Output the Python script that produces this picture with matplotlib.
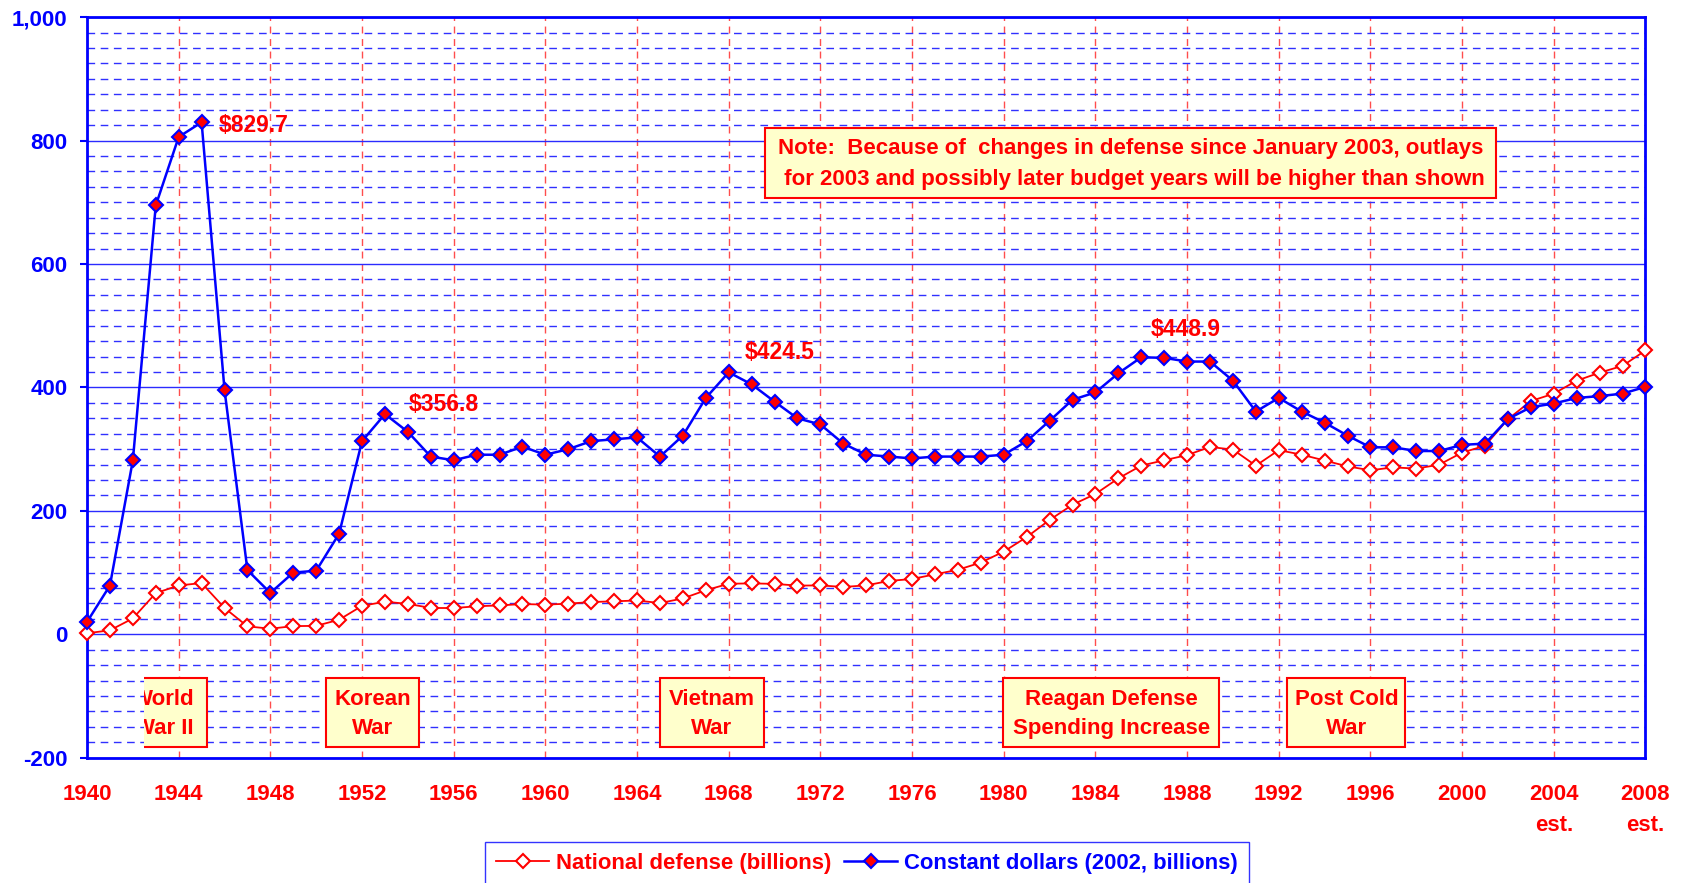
import matplotlib
matplotlib.use('Agg')
import matplotlib.pyplot as plt
from matplotlib.lines import Line2D
from matplotlib.patches import Rectangle
from matplotlib.ticker import FuncFormatter

plt.rcParams['font.family'] = ['Liberation Sans', 'DejaVu Sans']
plt.rcParams['font.weight'] = 'bold'

# fiscal years 1940 - 2008
years = list(range(1940, 2009))

# national defense outlays, billions (current dollars)
national_defense = [
    1.7, 6.4, 25.7, 66.7, 79.1, 83.0, 42.7, 12.8, 9.1, 13.2,
    13.7, 23.6, 46.1, 52.8, 49.3, 42.7, 42.5, 45.4, 46.8, 49.0,
    48.1, 49.6, 52.3, 53.4, 54.8, 50.6, 58.1, 71.4, 81.9, 82.5,
    81.7, 78.9, 79.2, 76.7, 79.3, 86.5, 89.6, 97.2, 104.5, 116.3,
    134.0, 157.5, 185.3, 209.9, 227.4, 252.7, 273.4, 282.0, 290.4, 303.6,
    299.3, 273.3, 298.4, 291.1, 281.6, 272.1, 265.8, 270.5, 268.5, 274.9,
    294.5, 305.5, 348.6, 378.0, 390.0, 411.0, 424.0, 435.0, 460.0,
]

# constant 2002 dollars, billions
constant_dollars = [
    20, 79, 282, 695, 806, 829.7, 396, 104, 67, 100,
    103, 163, 313, 356.8, 328, 288, 282, 291, 291, 304,
    291, 300, 313, 316, 319, 288, 322, 383, 424.5, 405,
    377, 350, 340, 309, 291, 288, 285, 288, 288, 288,
    291, 313, 346, 380, 392, 423, 448.9, 448, 442, 442,
    411, 361, 383, 361, 343, 322, 303, 303, 297, 297,
    307, 309, 349, 368, 374, 383, 386, 390, 401,
]

x_ticks = list(range(1940, 2009, 4))
x_tick_labels = ['1940', '1944', '1948', '1952', '1956', '1960', '1964', '1968', '1972',
                 '1976', '1980', '1984', '1988', '1992', '1996', '2000', '2004\nest.', '2008\nest.']

peak_labels = ['\\$829.7', '\\$356.8', '\\$424.5', '\\$448.9']

war_labels = ['World\nWar II', 'Korean\nWar', 'Vietnam\nWar',
              'Reagan Defense\nSpending Increase', 'Post Cold\nWar']

note_text = ('Note:  Because of  changes in defense since January 2003, outlays\n'
             ' for 2003 and possibly later budget years will be higher than shown')

fig = plt.figure(figsize=(16.83, 8.83), dpi=100)
ax = fig.add_axes([0.0517, 0.1419, 0.926, 0.8386])

ax.set_xlim(1940, 2008)
ax.set_ylim(-200, 1000)

# grid
ax.set_axisbelow(True)
ax.set_xticks(x_ticks)
ax.set_xticklabels(x_tick_labels)
ax.set_yticks(range(-200, 1001, 200))
ax.set_yticks(range(-200, 1001, 25), minor=True)
ax.yaxis.set_major_formatter(FuncFormatter(lambda v, p: '{:,.0f}'.format(v)))
ax.grid(True, which='major', axis='y', color='#2b2bff', lw=1.0, ls='-')
ax.grid(True, which='minor', axis='y', color='#3030ff', lw=1.0, ls=(0, (5.5, 4)))
ax.grid(True, which='major', axis='x', color='#ff4d4d', lw=1.0, ls=(0, (5, 4)))

ax.tick_params(axis='y', which='major', colors='blue', labelsize=16, length=5, width=1.5, pad=9)
ax.tick_params(axis='y', which='minor', length=0)
ax.tick_params(axis='x', labelcolor='red', labelsize=16, length=0, pad=19)
for t in ax.get_xticklabels():
    t.set_linespacing(1.6)

for s in ax.spines.values():
    s.set_color('blue')
    s.set_linewidth(2)

# series
ax.plot(years, national_defense, color='red', lw=1.3, marker='D', ms=7,
        mfc='white', mec='red', mew=1.5, zorder=3, clip_on=False)
ax.plot(years, constant_dollars, color='blue', lw=1.8, marker='D', ms=7,
        mfc='red', mec='blue', mew=1.5, zorder=4, clip_on=False)

# peak values
peak_pos = [(1945.76, 825, 'left'), (1955.57, 373, 'center'),
            (1970.22, 457, 'center'), (1987.93, 494, 'center')]
for (px, py, ha), lab in zip(peak_pos, peak_labels):
    ax.text(px, py, lab, color='red', fontsize=16.5, fontweight='bold',
            ha=ha, va='center', zorder=6)

# war boxes
box_y0, box_y1 = -182.5, -70.7
boxes = [(1941.5, 1945.23), (1950.42, 1954.48), (1964.99, 1969.52),
         (1979.97, 1989.41), (1992.38, 1997.52)]
for k, ((x0, x1), lab) in enumerate(zip(boxes, war_labels)):
    r = Rectangle((x0, box_y0), x1 - x0, box_y1 - box_y0, fc='#ffffcc',
                  ec='red', lw=1.5, zorder=5)
    ax.add_patch(r)
    xc = (x0 + x1) / 2 if k else 1943.33
    t = ax.text(xc, (box_y0 + box_y1) / 2 - 2, lab, color='red', fontsize=16,
                fontweight='bold', ha='center', va='center', linespacing=1.5,
                multialignment='center', zorder=6)
    if k == 0:
        # the WWII box is cut off on its left side in the original
        clip = Rectangle((1942.49, -300), 20, 800, transform=ax.transData)
        r.set_clip_path(clip)
        t.set_clip_on(True)
        t.set_clip_path(clip)

# note box
ax.add_patch(Rectangle((1969.6, 707.3), 2001.5 - 1969.6, 820.7 - 707.3,
                       fc='#ffffcc', ec='red', lw=1.5, zorder=5))
ax.text((1969.6 + 2001.5) / 2, 762, note_text, color='red', fontsize=16,
        fontweight='bold', ha='center', va='center', linespacing=1.6,
        multialignment='center', zorder=6)

# legend
h1 = Line2D([], [], color='red', lw=1.3, marker='D', ms=7, mfc='white', mec='red', mew=1.5)
h2 = Line2D([], [], color='blue', lw=1.8, marker='D', ms=7, mfc='red', mec='blue', mew=1.5)
leg = fig.legend(handles=[h1, h2],
                 labels=['National defense (billions)', 'Constant dollars (2002, billions)'],
                 loc='upper left', bbox_to_anchor=(485 / 1683, 1 - 842 / 883), ncol=2,
                 frameon=True, fancybox=False, handlelength=2.4, handletextpad=0.3,
                 columnspacing=0.6, borderpad=0.5, borderaxespad=0,
                 prop=dict(size=15.9, weight='bold'))
leg.get_frame().set_edgecolor('blue')
leg.get_frame().set_linewidth(1.0)
for t, c in zip(leg.get_texts(), ['red', 'blue']):
    t.set_color(c)

fig.savefig('out.png', dpi=100)
